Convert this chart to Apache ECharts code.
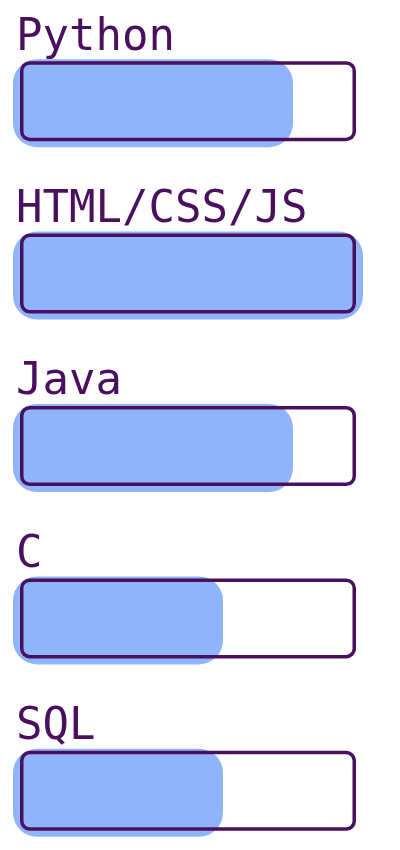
<!DOCTYPE html>
<html>
<head>
<meta charset="utf-8">
<script src="https://cdn.jsdelivr.net/npm/echarts@6/dist/echarts.min.js"></script>
<style>
  html, body { margin: 0; padding: 0; background: #fff; }
  #chart { width: 400px; height: 850px; }
</style>
</head>
<body>
<div id="chart"></div>
<script>
// skill names and levels (percent)
var skills = ['Python', 'HTML/CSS/JS', 'Java', 'C', 'SQL'];
var levels = [80, 100, 80, 60, 60];
var fullLevel = [100, 100, 100, 100, 100];

var chart = echarts.init(document.getElementById('chart'));

// two grids on top of each other: the blue fill is a bit bigger than the outline
var option = {
  backgroundColor: '#ffffff',
  animation: false,
  grid: [
    { left: 13, right: 37, top: 17, height: 862, outerBoundsMode: 'none' },
    { left: 20, right: 44, top: 15, height: 862, outerBoundsMode: 'none' }
  ],
  xAxis: [
    { type: 'value', gridIndex: 0, min: 0, max: 100, show: false },
    { type: 'value', gridIndex: 1, min: 0, max: 100, show: false }
  ],
  yAxis: [
    { type: 'category', gridIndex: 0, data: skills, inverse: true, show: false },
    { type: 'category', gridIndex: 1, data: skills, inverse: true, show: false }
  ],
  series: [
    {
      // blue fill
      type: 'bar',
      xAxisIndex: 0,
      yAxisIndex: 0,
      data: levels,
      barWidth: 88,
      itemStyle: {
        color: '#8fb4fc',
        borderRadius: 24
      },
      z: 2
    },
    {
      // outline
      type: 'bar',
      xAxisIndex: 1,
      yAxisIndex: 1,
      data: fullLevel,
      barWidth: 80,
      itemStyle: {
        color: 'rgba(255,255,255,0)',
        borderColor: '#4b0f5f',
        borderWidth: 3.5,
        borderRadius: 8
      },
      label: {
        show: true,
        position: [-4, -1],
        align: 'left',
        verticalAlign: 'bottom',
        formatter: function (p) { return skills[p.dataIndex]; },
        fontFamily: 'DejaVu Sans Mono',
        fontSize: 44,
        color: '#4b0f5f'
      },
      z: 3
    }
  ]
};
chart.setOption(option);
</script>
</body>
</html>
